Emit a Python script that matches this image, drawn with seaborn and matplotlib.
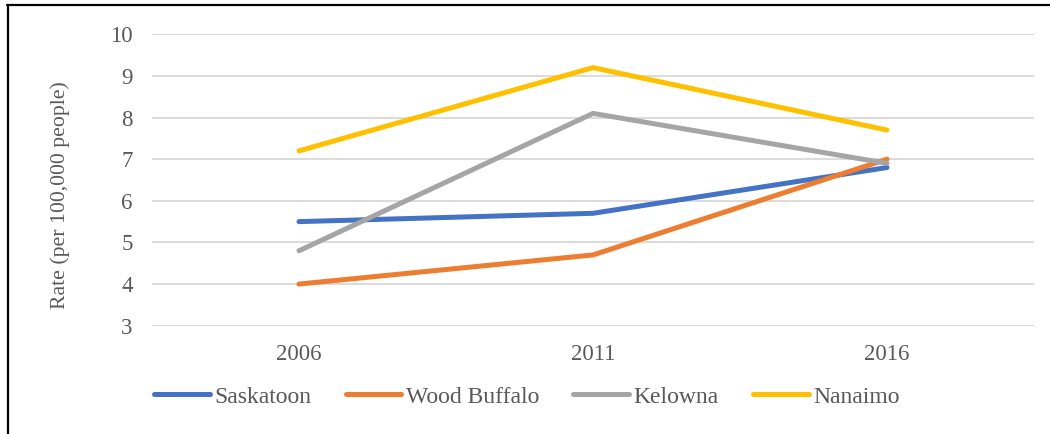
import matplotlib
matplotlib.use("Agg")
import matplotlib.pyplot as plt
from matplotlib.lines import Line2D
import seaborn as sns
import pandas as pd

years = ["2006", "2011", "2016"]
saskatoon = [5.5, 5.7, 6.8]
wood_buffalo = [4.0, 4.7, 7.0]
kelowna = [4.8, 8.1, 6.9]
nanaimo = [7.2, 9.2, 7.7]

cities = ["Saskatoon", "Wood Buffalo", "Kelowna", "Nanaimo"]
series = [saskatoon, wood_buffalo, kelowna, nanaimo]
colors = ["#4472C4", "#ED7D31", "#A5A5A5", "#FFC000"]

y_ticks = [3, 4, 5, 6, 7, 8, 9, 10]
y_label = "Rate (per 100,000 people)"

rows = []
for city, vals in zip(cities, series):
    for yr, v in zip(years, vals):
        rows.append({"Year": yr, "City": city, "Rate": v})
df = pd.DataFrame(rows)

sns.set_theme(style="white")
plt.rcParams["font.family"] = ["Liberation Serif", "DejaVu Serif"]

text_gray = "#595959"
W, H = 1050, 434
fig = plt.figure(figsize=(W / 100, H / 100), dpi=100)
ax = fig.add_axes([152 / W, 1 - 325.7 / H, (1034 - 152) / W, (325.7 - 34.3) / H])

sns.lineplot(data=df, x="Year", y="Rate", hue="City", hue_order=cities,
             palette=colors, linewidth=3.6, sort=False, ax=ax, legend=False,
             solid_capstyle="round")

ax.set_xlim(-0.5, len(years) - 0.5)
ax.set_ylim(min(y_ticks), max(y_ticks))
ax.set_yticks(y_ticks)
ax.set_xticks(range(len(years)))
ax.set_xticklabels(years)
ax.grid(axis="y", color="#D9D9D9", linewidth=1.3)
ax.grid(axis="x", visible=False)
ax.set_axisbelow(True)
for s in ax.spines.values():
    s.set_visible(False)
ax.tick_params(axis="both", length=0, labelsize=16.5, labelcolor=text_gray)
ax.tick_params(axis="y", pad=14)
ax.tick_params(axis="x", pad=13)
ax.set_xlabel("")
ax.set_ylabel("")

# axis title, placed in figure pixels
fig.text(60 / W, 1 - 195 / H, y_label, rotation=90, ha="center", va="center",
         fontsize=15.7, color=text_gray)

handles = [Line2D([0], [0], color=c, linewidth=3.6, solid_capstyle="round")
           for c in colors]
fig.legend(handles, cities, loc="center", bbox_to_anchor=(527 / W, 1 - 397 / H),
           ncol=4, frameon=False, fontsize=17, handlelength=2.35,
           handletextpad=0.2, columnspacing=1.45, borderpad=0,
           labelcolor=text_gray)

# outer frame along the left and top edges
fig.add_artist(Line2D([7.5 / W, 7.5 / W], [0, 1 - 5 / H], color="black",
                      linewidth=1.6, transform=fig.transFigure))
fig.add_artist(Line2D([7 / W, 1], [1 - 5 / H, 1 - 5 / H], color="black",
                      linewidth=1.6, transform=fig.transFigure))

fig.savefig("out.png", dpi=100)
